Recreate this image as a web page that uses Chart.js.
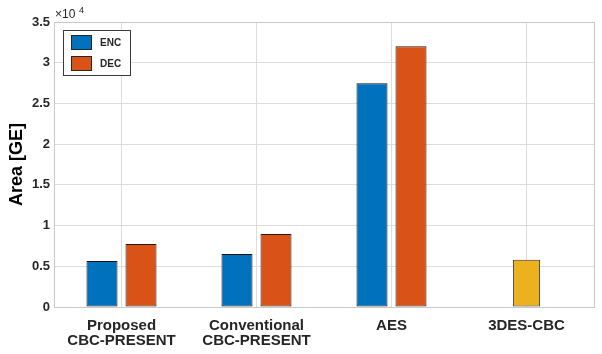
<!DOCTYPE html>
<html><head><meta charset="utf-8">
<script src="https://cdn.jsdelivr.net/npm/chart.js@4.4.1/dist/chart.umd.min.js"></script>
<style>html,body{margin:0;padding:0;background:#fff}#wrap{width:602px;height:354px}</style>
</head><body><div id="wrap"><canvas id="c" width="602" height="354"></canvas></div>
<script>
const categories = [["Proposed","CBC-PRESENT"],["Conventional","CBC-PRESENT"],"AES","3DES-CBC"];
const encValues = [5650, 6510, 27480, null];
const decValues = [7740, 8970, 32030, null];
const desValues = [null, null, null, 5810];
const seriesLabels = ["ENC", "DEC"];
const yTicks = [0, 5000, 10000, 15000, 20000, 25000, 30000, 35000];

const framePlugin = {
  id: 'frame',
  afterDatasetsDraw(chart) {
    const {ctx, chartArea: a} = chart;
    ctx.save();
    ctx.strokeStyle = '#c8c8c8';
    ctx.lineWidth = 1;
    ctx.strokeRect(Math.round(a.left) + 0.5, Math.round(a.top) + 0.5, Math.round(a.right - a.left), Math.round(a.bottom - a.top));
    // exponent label
    ctx.fillStyle = '#262626';
    ctx.font = '12px "Liberation Sans", Arial';
    ctx.textBaseline = 'alphabetic';
    ctx.fillText('\u00d710', a.left + 1, a.top - 4);
    ctx.font = '9px "Liberation Sans", Arial';
    ctx.fillText('4', a.left + 25, a.top - 9);
    // legend
    const lx = 63, ly = 30, lw = 67, lh = 45;
    ctx.fillStyle = '#ffffff';
    ctx.fillRect(lx, ly, lw, lh);
    ctx.strokeStyle = '#3a3a3a';
    ctx.lineWidth = 1;
    ctx.strokeRect(lx + 0.5, ly + 0.5, lw, lh);
    const ds = chart.data.datasets;
    for (let i = 0; i < 2; i++) {
      const y = ly + 5 + i * 21;
      ctx.fillStyle = ds[i].backgroundColor;
      ctx.fillRect(lx + 8, y, 21, 15);
      ctx.strokeStyle = '#262626';
      ctx.strokeRect(lx + 8.5, y + 0.5, 20, 14);
      ctx.fillStyle = '#262626';
      ctx.font = 'bold 10px "Liberation Sans", Arial';
      ctx.textBaseline = 'middle';
      ctx.fillText(ds[i].label, lx + 37, y + 8);
    }
    ctx.restore();
  }
};

new Chart(document.getElementById('c'), {
  type: 'bar',
  data: {
    labels: categories,
    datasets: [
      {label: seriesLabels[0], data: encValues, backgroundColor: '#0072BD', borderColor: '#111111', borderWidth: 1, borderSkipped: false, categoryPercentage: 0.578, barPercentage: 0.795},
      {label: seriesLabels[1], data: decValues, backgroundColor: '#D95319', borderColor: '#2a140c', borderWidth: 1, borderSkipped: false, categoryPercentage: 0.578, barPercentage: 0.795},
      {label: '3DES', data: desValues, backgroundColor: '#EDB120', borderColor: '#333333', borderWidth: 1, borderSkipped: false, grouped: false, barPercentage: 0.252}
    ]
  },
  options: {
    responsive: false,
    animation: false,
    layout: {padding: {left: 0, right: 8, top: 22, bottom: 0}},
    plugins: {legend: {display: false}, tooltip: {enabled: false}},
    scales: {
      x: {
        offset: true,
        grid: {offset: false, color: '#dcdcdc', drawTicks: false},
        border: {color: '#c8c8c8'},
        ticks: {color: '#262626', font: {family: '"Liberation Sans", Arial', size: 15, weight: 'bold', lineHeight: 0.95}, padding: 12, maxRotation: 0, autoSkip: false},
        afterFit(s) { s.height = 47; }
      },
      y: {
        min: 0, max: 35000,
        afterBuildTicks(s) { s.ticks = yTicks.map(v => ({value: v})); },
        grid: {color: '#dcdcdc', drawTicks: false},
        border: {color: '#c8c8c8'},
        ticks: {color: '#262626', font: {family: '"Liberation Sans", Arial', size: 13, weight: 'bold'}, padding: 4,
          callback: v => String(v / 10000)},
        title: {display: true, text: 'Area [GE]', color: '#000', font: {family: '"Liberation Sans", Arial', size: 18, weight: 'bold'}, padding: {top: 6, bottom: 0}},
        afterFit(s) { s.width = 54; }
      }
    }
  },
  plugins: [framePlugin]
});
</script></body></html>
